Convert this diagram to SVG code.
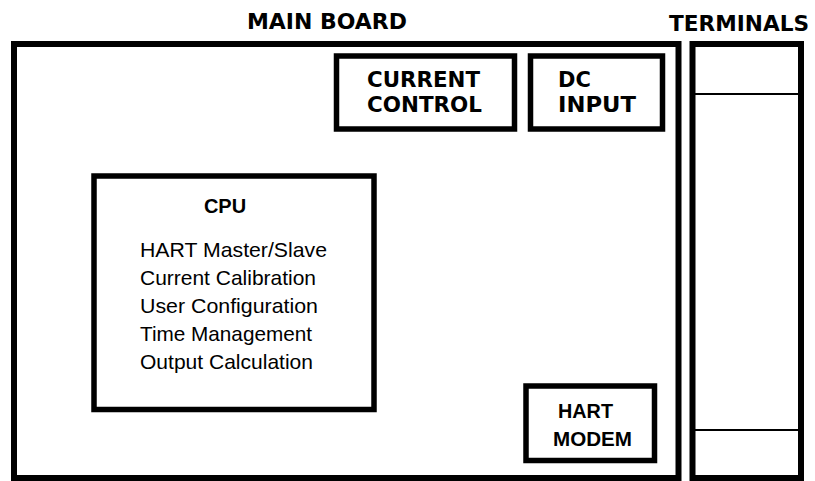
<svg xmlns="http://www.w3.org/2000/svg" width="815" height="481" viewBox="0 0 815 481">
<style>
.box{fill:#fff;stroke:#000;stroke-width:5.5}
.frame{fill:none;stroke:#000;stroke-width:6}
.thin{stroke:#000;stroke-width:2}
.hv{font-family:"DejaVu Sans",Verdana,sans-serif;font-weight:bold;font-size:21px;fill:#000}
.ar{font-family:"Liberation Sans",Arial,sans-serif;font-size:21px;fill:#000}
.arb{font-family:"Liberation Sans",Arial,sans-serif;font-size:20px;font-weight:bold;fill:#000}
</style>
<rect width="815" height="481" fill="#fff"/>
<g id="main-board">
<rect class="frame" x="14" y="44" width="664.5" height="434"/>
<text class="hv" x="247" y="29" textLength="160" lengthAdjust="spacingAndGlyphs">MAIN BOARD</text>
</g>
<g id="terminals">
<rect class="frame" x="692.5" y="44" width="108.5" height="434"/>
<line class="thin" x1="695" y1="94" x2="798" y2="94"/>
<line class="thin" x1="695" y1="430" x2="798" y2="430"/>
<text class="hv" x="669" y="31" textLength="140" lengthAdjust="spacingAndGlyphs">TERMINALS</text>
</g>
<g id="current-control">
<rect class="box" x="336.5" y="56" width="178" height="73"/>
<text class="hv" x="367" y="87" textLength="113" lengthAdjust="spacingAndGlyphs">CURRENT</text>
<text class="hv" x="367" y="112" textLength="115" lengthAdjust="spacingAndGlyphs">CONTROL</text>
</g>
<g id="dc-input">
<rect class="box" x="530.5" y="56" width="132" height="73"/>
<text class="hv" x="558" y="87">DC</text>
<text class="hv" x="558" y="112" textLength="78" lengthAdjust="spacingAndGlyphs">INPUT</text>
</g>
<g id="cpu">
<rect class="box" x="94" y="176" width="280" height="233.5"/>
<text class="arb" x="225" y="213" text-anchor="middle">CPU</text>
<text class="ar" x="140" y="257" textLength="187" lengthAdjust="spacingAndGlyphs">HART Master/Slave</text>
<text class="ar" x="140" y="285" textLength="176" lengthAdjust="spacingAndGlyphs">Current Calibration</text>
<text class="ar" x="140" y="313" textLength="178" lengthAdjust="spacingAndGlyphs">User Configuration</text>
<text class="ar" x="140" y="341" textLength="172" lengthAdjust="spacingAndGlyphs">Time Management</text>
<text class="ar" x="140" y="369" textLength="173" lengthAdjust="spacingAndGlyphs">Output Calculation</text>
</g>
<g id="hart-modem">
<rect class="box" x="526" y="386" width="128.5" height="74.5"/>
<text class="arb" x="558" y="418" textLength="55" lengthAdjust="spacingAndGlyphs">HART</text>
<text class="arb" x="553" y="446" textLength="79" lengthAdjust="spacingAndGlyphs">MODEM</text>
</g>
<g id="connectors"></g>
</svg>
